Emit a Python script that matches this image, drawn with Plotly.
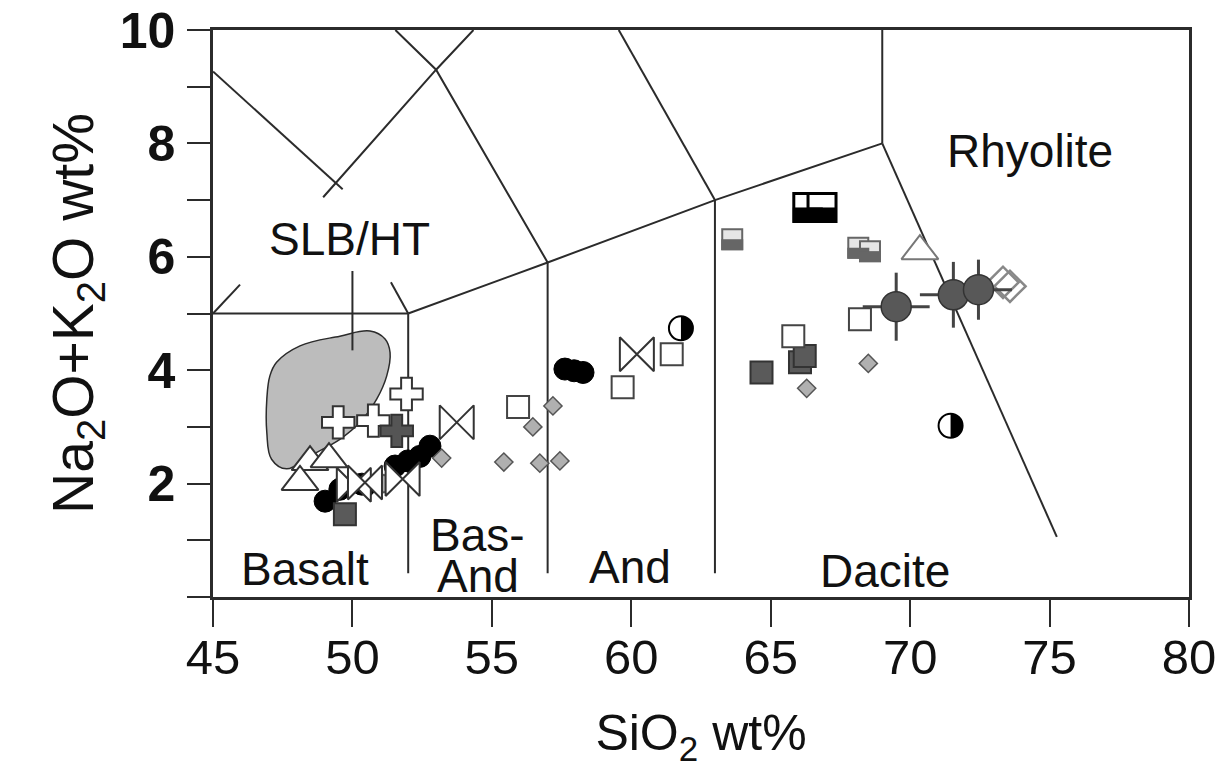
import numpy as np
import plotly.graph_objects as go

FONT = "Liberation Sans, Arial, sans-serif"
INK = "#2b2b2b"

# ---------------- TAS classification boundaries (SiO2, Na2O+K2O) ----------------
basalt_top_x, basalt_top_y = [45, 52], [5, 5]
line52_x, line52_y = [52, 52], [0.42, 5]
line57_x, line57_y = [57, 57], [0.42, 5.9]
line63_x, line63_y = [63, 63], [0.42, 7]
upper_x, upper_y = [52, 57, 63, 69], [5, 5.9, 7, 8]
line69_x, line69_y = [69, 69], [8, 10]
rhyolite_x, rhyolite_y = [69, 75.26], [8, 1.06]
trachy1_x, trachy1_y = [51.54, 53, 57], [10, 9.3, 5.9]
trachy2_x, trachy2_y = [59.55, 63], [10, 7]
tephri1_x, tephri1_y = [48.95, 49.4, 53, 54.34], [7.05, 7.3, 9.3, 10]
tephri2_x, tephri2_y = [45, 49.65], [9.27, 7.19]
stub_left_x, stub_left_y = [45, 45.97], [5, 5.51]
stub_right_x, stub_right_y = [52, 51.38], [5, 5.55]
pointer_x, pointer_y = [50.0, 50.0], [5.75, 4.35]

# SLB/HT compositional field outline
field_x = [47.28, 48.12, 49.55, 50.63, 51.17, 51.35, 51.23, 50.87, 50.27, 49.55,
           48.48, 47.64, 47.10, 46.93, 46.93, 47.04]
field_y = [4.14, 4.43, 4.60, 4.69, 4.55, 4.31, 3.90, 3.49, 3.08, 2.78,
           2.49, 2.26, 2.43, 2.90, 3.49, 3.90]

# ---------------- sample groups ----------------
black_circle_x = [49.02, 49.55, 50.34, 51.53, 51.99, 52.42, 52.78, 57.62, 57.95, 58.27]
black_circle_y = [1.69, 1.90, 1.99, 2.31, 2.40, 2.48, 2.66, 4.02, 3.99, 3.96]

black_diamond_x = [50.63]
black_diamond_y = [1.96]

grey_diamond_x = [53.2, 51.13, 57.19, 56.47, 55.43, 56.72, 57.44, 66.29, 68.5]
grey_diamond_y = [2.45, 2.0, 3.37, 3.0, 2.38, 2.36, 2.40, 3.68, 4.12]

open_square_x = [55.94, 59.69, 61.45, 65.81, 68.2]
open_square_y = [3.35, 3.70, 4.28, 4.60, 4.90]

dark_square_x = [49.73, 64.67, 66.05, 66.22]
dark_square_y = [1.46, 3.96, 4.14, 4.25]

white_cross_x = [49.49, 50.75, 51.94]
white_cross_y = [3.08, 3.11, 3.58]

dark_cross_x = [51.59]
dark_cross_y = [2.93]

triangle_x = [48.48, 49.16, 48.12]
triangle_y = [2.38, 2.43, 2.03]

grey_triangle_x = [70.35]
grey_triangle_y = [6.10]

bowtie_x = [50.05, 50.45, 51.8, 53.74, 60.2]
bowtie_y = [1.98, 2.02, 2.08, 3.08, 4.28]

half_circle_x = [61.78, 71.45]
half_circle_y = [4.74, 3.02]

err_circle_x = [69.5, 71.55, 72.45]
err_circle_y = [5.12, 5.33, 5.42]
err_circle_dx = [1.2, 1.2, 1.2]
err_circle_dy = [0.6, 0.58, 0.53]

open_diamond_x = [73.33, 73.58]
open_diamond_y = [5.55, 5.48]

black_half_square_x = [66.33, 66.84]
black_half_square_y = [6.87, 6.87]

grey_half_square_x = [63.62, 68.14, 68.56]
grey_half_square_y = [6.31, 6.16, 6.10]

# ---------------- text labels ----------------
field_labels = ["Basalt", "Bas-", "And", "And", "Dacite", "Rhyolite", "SLB/HT"]
field_label_x = [48.3, 54.5, 54.5, 59.95, 69.1, 74.3, 49.9]
field_label_y = [0.49, 1.09, 0.37, 0.53, 0.46, 7.86, 6.31]

x_ticks = [45, 50, 55, 60, 65, 70, 75, 80]
y_ticks = [2, 4, 6, 8, 10]
y_minor = [0, 1, 3, 5, 7, 9]

fig = go.Figure()

# grey field
fig.add_trace(go.Scatter(
    x=field_x + [field_x[0]], y=field_y + [field_y[0]], mode="lines",
    fill="toself", fillcolor="#bcbcbc",
    line=dict(color=INK, width=1.5, shape="spline", smoothing=1.1),
    hoverinfo="skip"))

for bx, by in [(basalt_top_x, basalt_top_y), (line52_x, line52_y), (line57_x, line57_y),
               (line63_x, line63_y), (upper_x, upper_y), (line69_x, line69_y),
               (rhyolite_x, rhyolite_y), (trachy1_x, trachy1_y), (trachy2_x, trachy2_y),
               (tephri1_x, tephri1_y), (tephri2_x, tephri2_y), (stub_left_x, stub_left_y),
               (stub_right_x, stub_right_y), (pointer_x, pointer_y)]:
    fig.add_trace(go.Scatter(x=bx, y=by, mode="lines",
                             line=dict(color=INK, width=2), hoverinfo="skip"))


def add_markers(x, y, symbol, size, fill, edge, width=2):
    fig.add_trace(go.Scatter(
        x=x, y=y, mode="markers",
        marker=dict(symbol=symbol, size=size, color=fill,
                    line=dict(color=edge, width=width))))


add_markers(triangle_x, triangle_y, "triangle-up", 32, "white", "#333333")
add_markers(white_cross_x, white_cross_y, "cross", 27, "white", "#333333")
add_markers(dark_cross_x, dark_cross_y, "cross", 27, "#555555", "#333333")
add_markers(black_circle_x, black_circle_y, "circle", 22, "black", "black", 1)
add_markers(black_diamond_x, black_diamond_y, "diamond", 16, "black", "black", 1)
add_markers(dark_square_x, dark_square_y, "square", 22, "#5a5a5a", "#333333")
add_markers(grey_diamond_x, grey_diamond_y, "diamond", 14, "#b0b0b0", "#555555", 1.5)
add_markers(bowtie_x, bowtie_y, "bowtie", 34, "white", "#333333")
add_markers(open_square_x, open_square_y, "square", 22, "white", "#444444")
add_markers(grey_triangle_x, grey_triangle_y, "triangle-up", 32, "white", "#777777")
add_markers(open_diamond_x, open_diamond_y, "diamond", 24, "rgba(255,255,255,0)", "#888888", 2.5)
add_markers(half_circle_x, half_circle_y, "circle", 24, "white", "black")
add_markers(black_half_square_x, black_half_square_y, "square", 28, "white", "black", 3)
add_markers(grey_half_square_x, grey_half_square_y, "square", 20, "#e6e6e6", "#666666", 2)

# circles with uncertainty bars
fig.add_trace(go.Scatter(
    x=err_circle_x, y=err_circle_y, mode="markers",
    marker=dict(symbol="circle", size=30, color="#585858", line=dict(color="#333333", width=1.5)),
    error_x=dict(type="data", array=err_circle_dx, color="#444444", thickness=3, width=0),
    error_y=dict(type="data", array=err_circle_dy, color="#444444", thickness=3, width=0)))

shapes = []
# right half of the half-filled circles
r = 12
t = np.linspace(0, np.pi, 25)
half_path = "M " + " L ".join(f"{r*np.sin(a):.2f},{r*np.cos(a):.2f}" for a in t) + " Z"
for hx, hy in zip(half_circle_x, half_circle_y):
    shapes.append(dict(type="path", xref="x", yref="y", xsizemode="pixel", ysizemode="pixel",
                       xanchor=hx, yanchor=hy, path=half_path, fillcolor="black",
                       line=dict(width=0)))
# lower half of the half-filled squares
for sx, sy in zip(black_half_square_x, black_half_square_y):
    shapes.append(dict(type="rect", xref="x", yref="y", xsizemode="pixel", ysizemode="pixel",
                       xanchor=sx, yanchor=sy, x0=-15, x1=15, y0=-15, y1=0,
                       fillcolor="black", line=dict(width=0)))
for sx, sy in zip(grey_half_square_x, grey_half_square_y):
    shapes.append(dict(type="rect", xref="x", yref="y", xsizemode="pixel", ysizemode="pixel",
                       xanchor=sx, yanchor=sy, x0=-11, x1=11, y0=-11, y1=0,
                       fillcolor="#666666", line=dict(width=0)))

annotations = [dict(x=lx, y=ly, text=lt, showarrow=False, xref="x", yref="y",
                    font=dict(size=46, color="#111111", family=FONT))
               for lt, lx, ly in zip(field_labels, field_label_x, field_label_y)]

fig.update_layout(
    width=1216, height=768,
    margin=dict(l=213, r=27, t=30, b=171, autoexpand=False),
    paper_bgcolor="white", plot_bgcolor="white",
    showlegend=False,
    font=dict(family=FONT, color="#111111"),
    shapes=shapes, annotations=annotations,
)

fig.update_xaxes(
    range=[45, 80], tickmode="array", tickvals=x_ticks, automargin=False,
    ticklabeloverflow="allow",
    ticks="outside", ticklen=27, tickwidth=2, tickcolor=INK,
    showline=True, linecolor=INK, linewidth=2.5, mirror=True,
    showgrid=False, zeroline=False,
    tickfont=dict(size=49, color="#111111"), ticklabelstandoff=-12,
    title=dict(text="SiO<sub>2</sub> wt%", font=dict(size=50), standoff=36),
)
fig.update_yaxes(
    range=[0, 10], tickmode="array", tickvals=y_ticks, automargin=False,
    ticklabeloverflow="allow",
    ticks="outside", ticklen=23, tickwidth=2, tickcolor=INK,
    minor=dict(tickmode="array", tickvals=y_minor, ticks="outside", ticklen=23,
               tickwidth=2, tickcolor=INK, showgrid=False),
    showline=True, linecolor=INK, linewidth=2.5, mirror=True,
    showgrid=False, zeroline=False,
    tickfont=dict(size=50, color="#111111", weight="bold"), ticklabelstandoff=2,
    title=dict(text="Na<sub>2</sub>O+K<sub>2</sub>O wt%", font=dict(size=57), standoff=8),
)

fig.write_html("out.html")
